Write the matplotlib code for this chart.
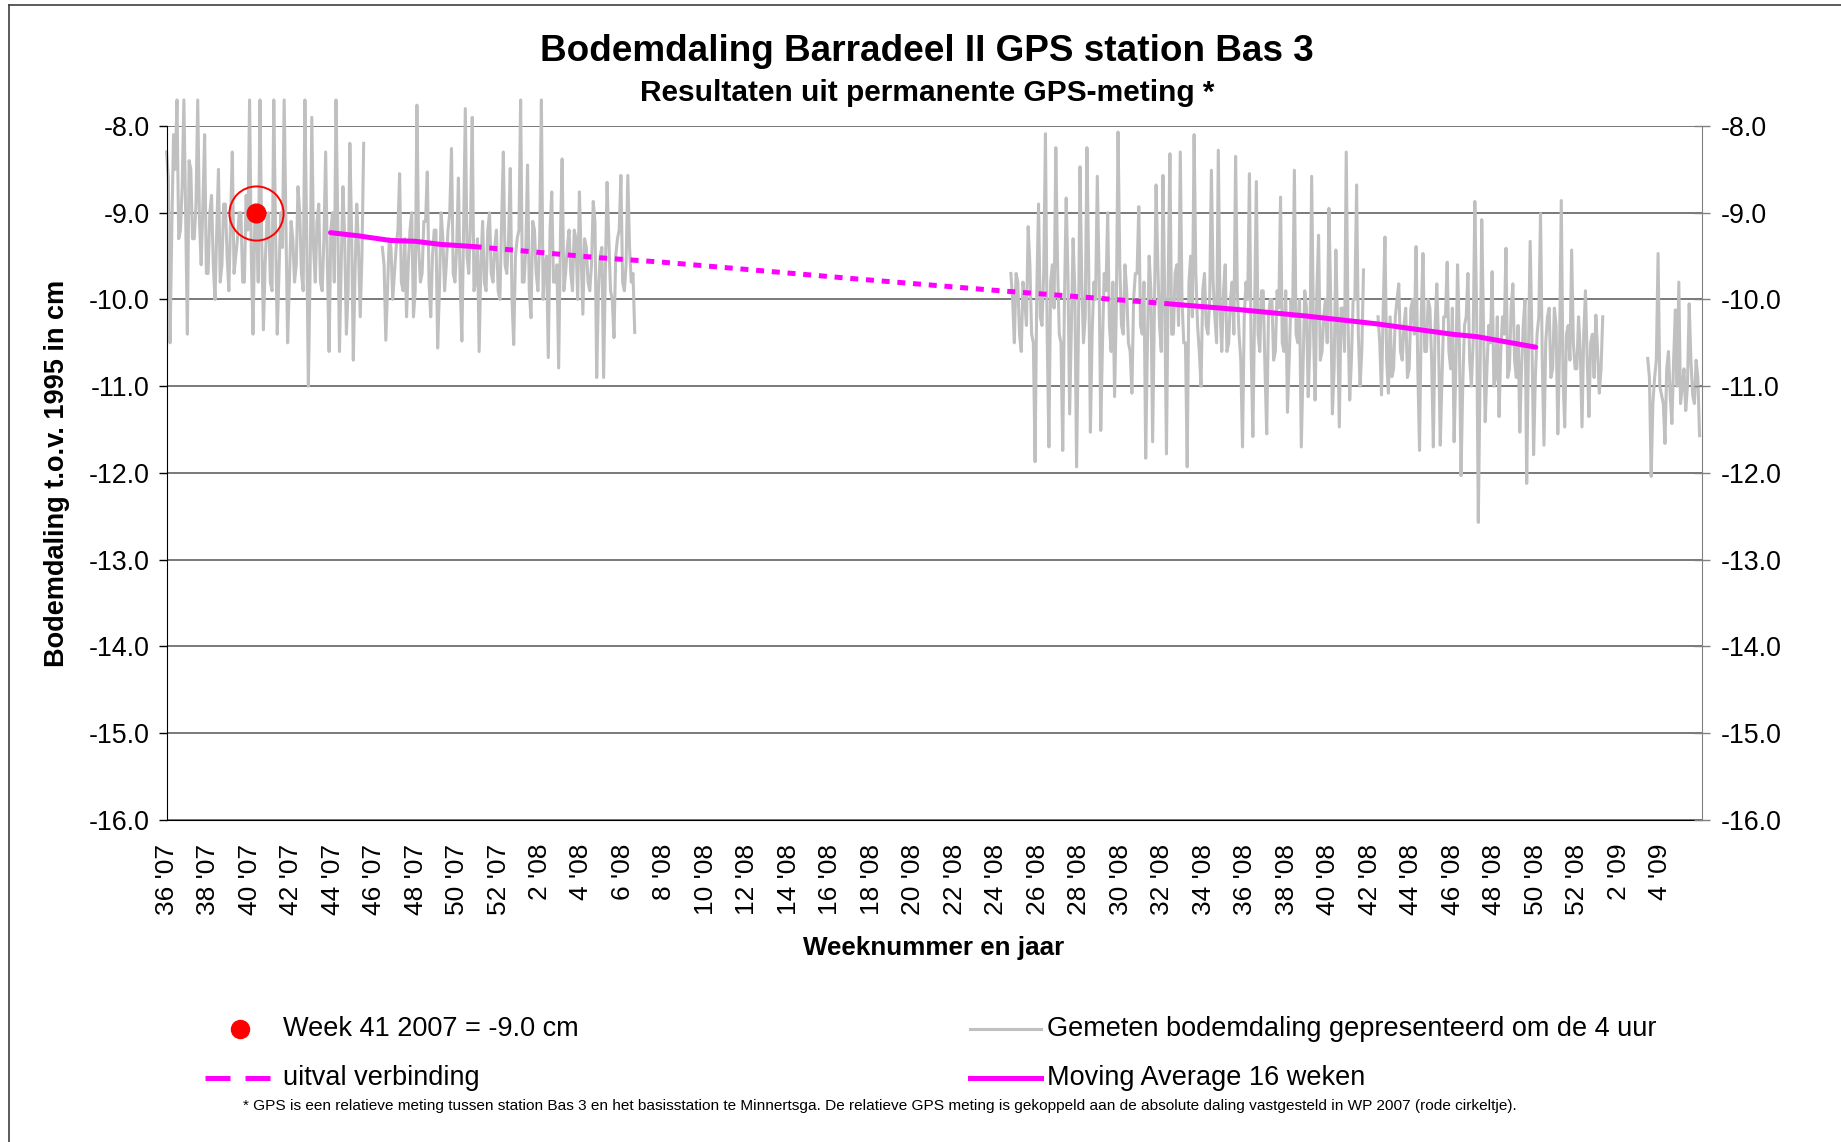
import matplotlib
matplotlib.use("Agg")
import matplotlib.pyplot as plt
import numpy as np
from matplotlib.lines import Line2D

plt.rcParams['font.family'] = ['Liberation Sans', 'DejaVu Sans']

# x axis: weeks counted from week 36 of 2007 (0) up to week 6 of 2009 (74)
tick_weeks = list(range(0, 73, 2))
tick_labels = ([f"{w} '07" for w in range(36, 53, 2)] +
               [f"{w} '08" for w in range(2, 53, 2)] +
               [f"{w} '09" for w in (2, 4)])

# gray measurements (read from the picture)
# *_peaks: one value every 1/6 week (spikes), *_core: values in between (dense band)
step = 1 / 6
seg1_start = 0.0
seg1_peaks = [-8.3, -10.5, -8.1, -7.7, -9.2, -7.7, -10.4, -8.5, -9.3, -7.7, -9.6, -8.1,
              -9.7, -8.8, -10.0, -8.5, -9.6, -8.9, -9.9, -8.3, -9.5, -9.0, -9.8, -8.8,
              -7.7, -10.4, -9.0, -7.7, -10.35, -9.1, -9.8, -7.7, -10.4, -9.0, -7.7, -10.5,
              -9.1, -9.8, -8.7, -9.7, -7.7, -11.0, -7.9, -9.8, -8.9, -9.9, -8.3, -10.6,
              -9.0, -7.7, -10.6, -8.7, -10.4, -8.2, -10.7, -8.9, -10.2, -8.2]
seg1_core = [-8.6, -9.2, -8.5, -9.3, -8.7, -9.0, -8.4, -9.3, -8.9, -9.1,
             -8.9, -9.7, -9.0, -9.6, -9.2, -9.8, -8.9, -9.5, -9.1, -9.7, -9.3, -9.0, -9.8, -9.2,
             -9.5, -9.1, -9.8, -9.3, -9.6, -9.0, -9.9, -9.2, -9.7, -9.4, -9.1, -9.8,
             -9.3, -9.6, -9.0, -9.9, -9.2, -9.7, -9.4, -9.1, -9.8, -9.3, -9.6, -9.2,
             -9.8, -9.1, -9.6, -9.3, -9.9, -9.2, -9.7, -9.4, -9.5]
seg2_start = 10.4
seg2_peaks = [-9.4, -10.47, -9.3, -10.0, -9.4, -8.55, -9.9, -10.2, -9.2, -10.2, -7.76, -9.8,
              -9.1, -8.53, -10.2, -9.2, -10.56, -9.0, -9.9, -9.2, -8.26, -9.8, -8.6, -10.48,
              -7.8, -9.7, -7.9, -9.8, -10.6, -9.1, -9.9, -9.0, -9.8, -9.2, -10.0, -8.3,
              -9.7, -8.49, -10.52, -9.3, -7.7, -9.8, -8.45, -10.21, -9.2, -9.9, -7.7, -9.6,
              -10.67, -8.76, -9.8, -10.79, -8.38, -9.7, -9.2, -9.9, -9.3, -8.76, -10.17, -9.4,
              -9.9, -8.87, -10.9, -9.5, -10.9, -8.65, -9.9, -10.44, -9.3, -8.57, -9.9, -8.57,
              -9.8, -10.38]
seg2_core = [-9.6, -9.9, -9.4, -9.7,
             -9.2, -9.8, -9.3, -9.6, -9.0, -9.9, -9.4, -9.7, -9.1, -9.8, -9.5, -9.2, -9.9,
             -9.3, -9.6, -9.0, -9.7, -9.4, -9.8, -9.2, -9.5, -9.1, -9.9, -9.3, -9.6, -9.8,
             -9.2, -9.7, -9.4, -9.9, -9.1,
             -9.6, -9.3, -10.0, -9.5, -9.2, -9.8, -9.4, -9.9, -9.1, -9.7, -9.3, -10.0, -9.5,
             -9.2, -9.8, -9.6, -9.3, -9.9, -9.4, -9.7, -9.2, -10.0, -9.5, -9.3, -9.8, -9.6,
             -9.1, -9.9, -9.4, -9.7, -9.3, -10.0, -9.5, -9.2, -9.8, -9.6, -9.4, -9.7]
seg3_start = 40.7
seg3_peaks = [-9.7, -10.5, -9.8, -10.6, -10.0, -9.16, -10.4, -11.87, -8.9, -10.3, -8.09, -11.7,
              -9.6, -8.25, -10.4, -11.74, -8.83, -11.32, -9.3, -11.93, -8.47, -10.5, -8.25, -11.53,
              -9.8, -8.58, -11.51, -9.7, -9.0, -10.6, -11.12, -8.07, -10.3, -9.6, -10.5, -11.08,
              -9.7, -8.93, -10.4, -11.83, -9.5, -11.64, -8.68, -10.3, -8.57, -11.78, -8.32, -10.4,
              -9.6, -8.3, -10.5, -11.93, -9.5, -8.1, -10.3, -11.0, -9.7, -10.4, -8.51, -10.2,
              -8.28, -10.6, -9.6, -10.5, -9.8, -8.35, -10.4, -11.7, -9.8, -8.55, -11.58, -8.64,
              -10.6, -9.9, -11.55, -10.0, -10.7, -9.9, -8.82, -10.6, -11.3, -10.0, -8.51, -10.5,
              -11.7, -9.9, -11.12, -8.58, -11.16, -9.26, -10.6, -10.0, -8.95, -11.32, -9.43, -11.47,
              -10.1, -8.3, -11.16, -10.0, -8.68, -11.0, -9.66]
seg3_core = [-10.0, -9.7, -10.4, -9.8, -10.3, -9.6, -10.5, -9.9, -10.2, -9.7,
             -10.4, -9.8, -10.1, -9.6, -10.5, -10.0, -9.7, -10.3, -9.9, -10.5,
             -9.8, -10.2, -9.6, -10.4, -10.0, -9.7, -10.5, -9.9, -10.3, -9.8,
             -10.1, -9.6, -10.4, -9.9, -10.6, -10.0, -9.7, -10.3, -9.8, -10.5,
             -9.9, -10.2, -9.6, -10.6, -10.0, -9.8, -10.4, -9.7, -10.3, -10.0,
             -10.5, -9.8, -10.2, -9.7, -10.6, -9.9, -10.3, -10.0, -9.8, -10.5,
             -10.1, -9.9, -10.6, -10.0, -10.4, -9.9, -10.7, -10.2, -10.0, -10.6,
             -10.1, -10.4, -9.9, -10.8, -10.2, -10.0, -10.6, -10.1, -10.5, -9.9,
             -10.7, -10.2, -10.4, -10.0, -10.8, -10.1, -10.5, -10.3, -9.9, -10.7,
             -10.2, -10.5, -10.0, -10.8, -10.3, -10.1, -10.6, -10.2, -10.7, -10.0,
             -10.4, -10.6]
seg4_start = 58.4
seg4_peaks = [-10.2, -11.1, -9.28, -11.08, -10.89, -10.2, -9.82, -10.7, -10.1, -10.8, -10.0, -9.39,
              -11.74, -9.47, -10.6, -10.1, -11.7, -9.82, -11.68, -10.2, -9.57, -10.8, -11.64, -9.6,
              -12.03, -10.3, -9.7, -11.0, -8.87, -12.57, -9.08, -11.41, -10.3, -9.68, -10.9, -11.35,
              -10.2, -9.41, -10.8, -9.82, -10.9, -11.53, -10.3, -12.12, -9.33, -11.79, -10.4, -9.01,
              -11.68, -10.2, -10.9, -10.1, -11.55, -8.86, -11.47, -10.3, -9.43, -10.8, -10.2, -11.47,
              -9.9, -11.35, -10.4, -10.18, -11.08, -10.2]
seg4_core = [-10.5, -10.1, -10.7, -10.2, -10.8, -10.0, -10.6, -10.3, -10.9, -10.1,
             -10.4, -10.8, -10.2, -10.6, -10.0, -10.7, -10.3, -10.5, -10.9, -10.2,
             -10.6, -10.1, -10.8, -10.4, -11.0, -10.2, -10.7, -10.5, -10.1, -10.9,
             -10.3, -10.8, -10.5, -11.0, -10.2, -10.6, -10.4, -10.9, -10.1, -10.7,
             -10.3, -10.8, -10.0, -10.6, -10.4, -10.9, -10.2, -10.7, -10.5, -10.1,
             -10.8, -10.3, -10.6, -10.9, -10.4, -10.7, -10.5, -10.8, -10.6, -10.4,
             -10.7, -10.5, -10.9, -10.6, -10.8]
seg5_start = 71.4
seg5_peaks = [-10.68, -12.04, -10.9, -9.47, -11.1, -11.66, -10.6, -11.43, -10.12, -9.8, -11.0,
              -11.28, -10.05, -11.1, -10.7, -11.57]
seg5_core = [-10.9, -11.2, -10.7, -11.0, -11.2, -10.8, -11.1, -10.7, -11.0, -11.2, -10.8,
             -11.0, -10.7, -11.2, -10.9]
segments = [(seg1_start, seg1_peaks, seg1_core), (seg2_start, seg2_peaks, seg2_core),
            (seg3_start, seg3_peaks, seg3_core), (seg4_start, seg4_peaks, seg4_core),
            (seg5_start, seg5_peaks, seg5_core)]

# moving average 16 weeks
ma1_weeks = [7.9, 9.2, 10.8, 12.0, 13.2, 14.8]
ma1_vals = [-9.23, -9.265, -9.32, -9.33, -9.365, -9.39]
gap_weeks = [14.8, 20.9, 23.9, 33.1, 40.2, 44.6, 48.3]
gap_vals = [-9.39, -9.52, -9.57, -9.76, -9.90, -9.98, -10.05]
ma2_weeks = [48.3, 51.6, 54.9, 58.3, 61.95, 63.2, 66.0]
ma2_vals = [-10.05, -10.115, -10.19, -10.28, -10.40, -10.43, -10.55]

# reference point week 41 2007
ref_week = 4.3
ref_val = -9.0

gray = '#C0C0C0'
magenta = '#FF00FF'

fig = plt.figure(figsize=(18.41, 11.42), dpi=100)
ax = fig.add_axes([0.0905, 0.282, 0.8338, 0.6077])

for start, peaks, core in segments:
    xp = start + np.arange(len(peaks)) * step
    xc = start + (np.arange(len(core)) + 0.5) * step
    x = np.concatenate([xp, xc])
    y = np.concatenate([peaks, core])
    order = np.argsort(x)
    ax.plot(x[order], y[order], color=gray, lw=2.2, clip_on=False, zorder=2)

ax.plot(ma1_weeks, ma1_vals, color=magenta, lw=3.6, solid_capstyle='round', zorder=3)
ax.plot(gap_weeks, gap_vals, color=magenta, lw=3.6, linestyle=(0, (1.6, 1.55)),
        dash_capstyle='butt', zorder=3)
ax.plot(ma2_weeks, ma2_vals, color=magenta, lw=3.6, solid_capstyle='round', zorder=3)

ax.plot([ref_week], [ref_val], 'o', color='red', ms=13.5, zorder=4)
ax.plot([ref_week], [ref_val], 'o', mfc='none', mec='red', ms=39, mew=1.4, zorder=4)

ax.set_xlim(0, 74)
ax.set_ylim(-16, -8)
yt = np.arange(-16, -7.9, 1.0)
ax.set_yticks(yt)
ax.set_yticklabels([f"{v:.1f}" for v in yt], fontsize=19.3)
ax.set_xticks(tick_weeks)
ax.set_xticklabels(tick_labels, rotation=90, fontsize=19, va='top', ha='center')
ax.tick_params(axis='x', length=0, pad=17)
ax.tick_params(axis='y', length=6, width=1, direction='out', pad=6)
for y in yt:
    ax.axhline(y, color='#555555', lw=1.1, zorder=1)

ax.spines['top'].set_visible(False)
ax.spines['right'].set_visible(False)
ax.spines['left'].set_color('black')
ax.spines['bottom'].set_color('black')

ax2 = ax.twinx()
ax2.set_ylim(-16, -8)
ax2.set_yticks(yt)
ax2.set_yticklabels([f"{v:.1f}" for v in yt], fontsize=19.3)
ax2.tick_params(axis='y', length=12, width=1, direction='inout', pad=8, color='#808080')
for s in ('top', 'left', 'bottom'):
    ax2.spines[s].set_visible(False)
ax2.spines['right'].set_color('#808080')

ax.set_xlabel("Weeknummer en jaar", fontsize=18.7, fontweight='bold', labelpad=15)
ax.set_ylabel("Bodemdaling t.o.v. 1995 in cm", fontsize=19.5, fontweight='bold', labelpad=14)

fig.text(0.5035, 0.955, "Bodemdaling Barradeel II GPS station Bas 3",
         ha='center', va='center', fontsize=26.6, fontweight='bold')
fig.text(0.5035, 0.919, "Resultaten uit permanente GPS-meting *",
         ha='center', va='center', fontsize=21.5, fontweight='bold')

# legend, drawn in figure pixels
W, H = 1841, 1142
def fx(px):
    return px / W
def fy(py):
    return 1 - py / H

row1 = 1029
row2 = 1078
fig.add_artist(Line2D([fx(239.5)], [fy(row1)], marker='o', color='red', ms=13, ls='none'))
fig.text(fx(283), fy(row1), "Week 41 2007 = -9.0 cm", fontsize=19.5, va='center')
fig.add_artist(Line2D([fx(970), fx(1041)], [fy(row1)] * 2, color=gray, lw=2.2))
fig.text(fx(1047), fy(row1), "Gemeten bodemdaling gepresenteerd om de 4 uur", fontsize=19.5, va='center')
fig.add_artist(Line2D([fx(205), fx(277)], [fy(row2)] * 2, color=magenta, lw=3.6,
                      linestyle=(0, (5, 3)), dash_capstyle='butt'))
fig.text(fx(283), fy(row2), "uitval verbinding", fontsize=19.5, va='center')
fig.add_artist(Line2D([fx(970), fx(1041)], [fy(row2)] * 2, color=magenta, lw=3.6))
fig.text(fx(1047), fy(row2), "Moving Average 16 weken", fontsize=19.5, va='center')
fig.text(fx(243), fy(1106),
         "* GPS is een relatieve meting tussen station Bas 3 en het basisstation te Minnertsga. "
         "De relatieve GPS meting is gekoppeld aan de absolute daling vastgesteld in WP 2007 (rode cirkeltje).",
         fontsize=11.1, va='center')

# chart border (top and left)
fig.add_artist(Line2D([fx(9), 1], [fy(5)] * 2, color='#404040', lw=1.2))
fig.add_artist(Line2D([fx(9)] * 2, [fy(5), 0], color='#404040', lw=1.2))

fig.savefig("out.png", dpi=100)
